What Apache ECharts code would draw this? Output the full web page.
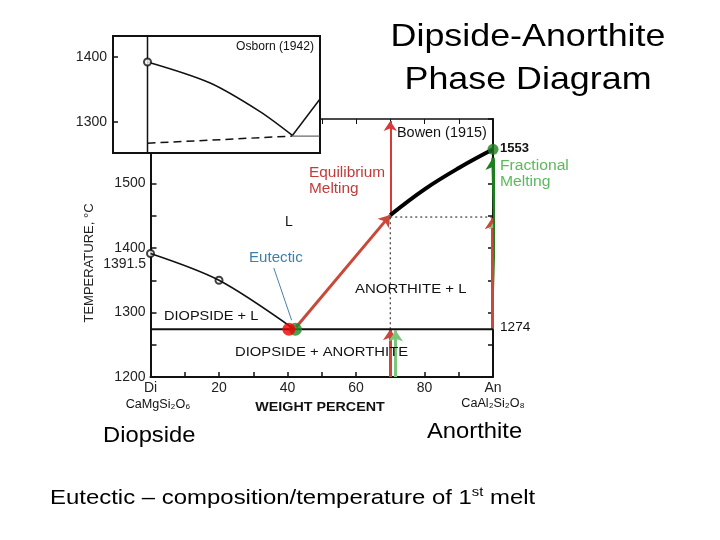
<!DOCTYPE html>
<html>
<head>
<meta charset="utf-8">
<script src="https://cdn.jsdelivr.net/npm/echarts@6/dist/echarts.min.js"></script>
<style>
  html, body { margin: 0; padding: 0; background: #fff; }
  #chart { width: 720px; height: 540px; }
</style>
</head>
<body>
<div id="chart"></div>
<script>
// composition (wt% An) vs temperature (°C)
const xTicks = [0, 20, 40, 60, 80, 100]
const yTicks = [1200, 1300, 1400, 1500]
const diLiquidus = [[0, 1391.5], [20, 1350], [42, 1274]]
const diPoints = [[0, 1391.5], [20, 1350]]
const anLiquidus = [[70, 1451], [80, 1491], [90, 1524], [100, 1553]]
const eutecticT = 1274
const eutecticDots = [[40.4, 1274], [42.3, 1274]]
const anMelt = [100, 1553]
// arrows: [from, to]
const redArrows = [
  [[42.5, 1277], [70, 1451]],
  [[70, 1200], [70, 1274]],
  [[99.7, 1274], [99.7, 1446]]
]
const redUp = [[70, 1451], [70, 1597]]
const lightGreenArrows = [
  [[71.6, 1200], [71.6, 1272]],
  [[100.9, 1274], [100.9, 1446]]
]
const darkGreenArrow = [[101.4, 1274], [100, 1540]]
const dotted = [
  [[70, 1274], [70, 1448]],
  [[70, 1448], [100, 1448]]
]
const eutecticPointer = [[36, 1369], [41.2, 1288]]
// Osborn (1942) inset
const osbornLiquidus = [[0, 1392], [18, 1360], [32.5, 1316], [42, 1279]]
const osbornRight = [[42, 1279], [50, 1335]]
const osbornDashed = [[0, 1267], [42, 1278]]
const osbornSolidus = [[42, 1278], [50, 1278]]
const insetTicks = [1300, 1400]

const chart = echarts.init(document.getElementById('chart'))
const FONT = '"Liberation Sans", Arial, sans-serif'
const RED = '#c8483a'
const LGREEN = '#7cc67c'
const DGREEN = '#1e7d1e'

function txt(x, y, text, opt, sx) {
  return {
    type: 'text', x: x, y: y, z: 50, scaleX: sx || 1,
    style: Object.assign({
      text: text, fill: '#111', font: '13px ' + FONT,
      textAlign: 'left', textVerticalAlign: 'middle'
    }, opt || {})
  }
}

function arrowSeries(list, color, width, size, z) {
  return {
    type: 'lines', coordinateSystem: 'cartesian2d', xAxisIndex: 0, yAxisIndex: 0,
    symbol: ['none', 'arrow'], symbolSize: size, z: z || 3,
    lineStyle: { color: color, width: width, opacity: 1 },
    data: list.map(c => ({ coords: c }))
  }
}

const option = {
  animation: false,
  backgroundColor: '#fff',
  textStyle: { fontFamily: FONT },
  grid: [
    { left: 150.5, top: 119, width: 342.5, height: 258 },
    { left: 113, top: 36, width: 207, height: 117, show: true, z: 10,
      backgroundColor: '#fff', borderColor: '#111', borderWidth: 2 }
  ],
  xAxis: [
    { gridIndex: 0, type: 'value', min: 0, max: 100, interval: 10,
      axisLine: { onZero: false, lineStyle: { color: '#111', width: 2 } },
      axisTick: { inside: true, length: 5, lineStyle: { color: '#111', width: 1.5 } },
      splitLine: { show: false },
      axisLabel: { color: '#222', fontSize: 14, margin: 4,
        formatter: v => v === 0 ? 'Di' : v === 100 ? 'An' : (xTicks.indexOf(v) >= 0 ? String(v) : '') } },
    { gridIndex: 0, type: 'value', position: 'top', min: 0, max: 100, interval: 10,
      axisLine: { onZero: false, lineStyle: { color: '#111', width: 1.5 } },
      axisTick: { inside: true, length: 5, lineStyle: { color: '#111' } },
      axisLabel: { show: false }, splitLine: { show: false } },
    { gridIndex: 1, type: 'value', min: -10, max: 50, show: false }
  ],
  yAxis: [
    { gridIndex: 0, type: 'value', min: 1200, max: 1600, interval: 50,
      axisLine: { show: true, onZero: false, lineStyle: { color: '#111', width: 2 } },
      axisTick: { show: true, inside: true, length: 6, lineStyle: { color: '#111', width: 1.5 } },
      splitLine: { show: false },
      axisLabel: { color: '#222', fontSize: 14, margin: 5,
        formatter: v => yTicks.indexOf(v) >= 0 ? String(v) : '' } },
    { gridIndex: 0, type: 'value', position: 'right', min: 1200, max: 1600, interval: 50,
      axisLine: { show: true, onZero: false, lineStyle: { color: '#111', width: 2 } },
      axisTick: { show: true, inside: true, length: 5, lineStyle: { color: '#111', width: 1.5 } },
      splitLine: { show: false }, axisLabel: { show: false } },
    { gridIndex: 1, type: 'value', min: 1252, max: 1432, z: 11,
      axisLine: { show: false, onZero: false },
      axisTick: { show: true, inside: true, length: 5, customValues: insetTicks,
        lineStyle: { color: '#111', width: 1.5 } },
      splitLine: { show: false },
      axisLabel: { color: '#222', fontSize: 14, margin: 6, customValues: insetTicks,
        formatter: v => String(v) } }
  ],
  series: [
    // inset (Osborn 1942)
    { type: 'line', xAxisIndex: 2, yAxisIndex: 2, z: 12, showSymbol: false,
      data: [[0, 1252], [0, 1432]], lineStyle: { color: '#111', width: 1.5 } },
    { type: 'line', xAxisIndex: 2, yAxisIndex: 2, z: 12, showSymbol: false, smooth: 0.3,
      data: osbornLiquidus, lineStyle: { color: '#111', width: 1.5 } },
    { type: 'line', xAxisIndex: 2, yAxisIndex: 2, z: 12, showSymbol: false,
      data: osbornRight, lineStyle: { color: '#111', width: 1.5 } },
    { type: 'line', xAxisIndex: 2, yAxisIndex: 2, z: 12, showSymbol: false,
      data: osbornDashed, lineStyle: { color: '#111', width: 1.5, type: [8, 5] } },
    { type: 'line', xAxisIndex: 2, yAxisIndex: 2, z: 12, showSymbol: false,
      data: osbornSolidus, lineStyle: { color: '#444', width: 1 } },
    { type: 'scatter', xAxisIndex: 2, yAxisIndex: 2, z: 13, symbol: 'emptyCircle', symbolSize: 7,
      data: [osbornLiquidus[0]], itemStyle: { color: '#111', borderWidth: 1.5 } },

    // main diagram (Bowen 1915)
    { type: 'line', xAxisIndex: 0, yAxisIndex: 0, showSymbol: false,
      data: [[0, eutecticT], [100, eutecticT]], lineStyle: { color: '#111', width: 2 } },
    { type: 'line', xAxisIndex: 0, yAxisIndex: 0, showSymbol: false, smooth: 0.3,
      data: diLiquidus, lineStyle: { color: '#111', width: 1.5 } },
    { type: 'scatter', xAxisIndex: 0, yAxisIndex: 0, symbol: 'emptyCircle', symbolSize: 7,
      data: diPoints, itemStyle: { color: '#111', borderWidth: 1.5 } },
    { type: 'line', xAxisIndex: 0, yAxisIndex: 0, showSymbol: false,
      data: dotted[0], lineStyle: { color: '#111', width: 1, type: [2, 3] } },
    { type: 'line', xAxisIndex: 0, yAxisIndex: 0, showSymbol: false,
      data: dotted[1], lineStyle: { color: '#111', width: 1, type: [2, 3] } },
    { type: 'line', xAxisIndex: 0, yAxisIndex: 0, showSymbol: false, smooth: 0.4, z: 4,
      data: anLiquidus, lineStyle: { color: '#000', width: 4 } },
    { type: 'line', xAxisIndex: 0, yAxisIndex: 0, showSymbol: false,
      data: eutecticPointer, lineStyle: { color: '#4a82a8', width: 1 } },
    arrowSeries(redArrows, RED, 3, 11),
    arrowSeries([redUp], '#d63a3a', 2, 10),
    arrowSeries(lightGreenArrows, LGREEN, 3, 11),
    arrowSeries([darkGreenArrow], DGREEN, 3.5, 12, 5),
    { type: 'scatter', xAxisIndex: 0, yAxisIndex: 0, symbolSize: 11, z: 6,
      data: [anMelt], itemStyle: { color: DGREEN } },
    { type: 'scatter', xAxisIndex: 0, yAxisIndex: 0, symbolSize: 13, z: 6,
      data: [eutecticDots[1]], itemStyle: { color: '#1f8a2a' } },
    { type: 'scatter', xAxisIndex: 0, yAxisIndex: 0, symbolSize: 13, z: 7,
      data: [eutecticDots[0]], itemStyle: { color: '#f00000' } }
  ],
  graphic: [
    txt(528, 37, 'Dipside-Anorthite', { font: '32px ' + FONT, textAlign: 'center', fill: '#000' }, 1.12),
    txt(528, 80, 'Phase Diagram', { font: '32px ' + FONT, textAlign: 'center', fill: '#000' }, 1.12),
    txt(314, 46, 'Osborn (1942)', { textAlign: 'right', font: '13px ' + FONT }, 0.93),
    txt(397, 133, 'Bowen (1915)', { font: '14px ' + FONT }, 1.03),
    txt(500, 148, '1553', { font: 'bold 13px ' + FONT }),
    txt(500, 166, 'Fractional', { font: '14px ' + FONT, fill: '#5cb85c' }, 1.12),
    txt(500, 182, 'Melting', { font: '14px ' + FONT, fill: '#5cb85c' }, 1.12),
    txt(309, 173, 'Equilibrium', { font: '14px ' + FONT, fill: '#c23b3b' }, 1.1),
    txt(309, 189, 'Melting', { font: '14px ' + FONT, fill: '#c23b3b' }, 1.1),
    txt(289, 222, 'L', { font: '14px ' + FONT, textAlign: 'center' }),
    txt(249, 258, 'Eutectic', { font: '14px ' + FONT, fill: '#3f7fa8' }, 1.08),
    txt(164, 316, 'DIOPSIDE + L', { font: '13px ' + FONT }, 1.12),
    txt(355, 289, 'ANORTHITE + L', { font: '13px ' + FONT }, 1.15),
    txt(235, 352, 'DIOPSIDE + ANORTHITE', { font: '13px ' + FONT }, 1.14),
    txt(500, 327, '1274', { font: '13px ' + FONT }, 1.05),
    txt(146, 264, '1391.5', { font: '14px ' + FONT, textAlign: 'right', fill: '#222' }),
    txt(158, 405, 'CaMgSi₂O₆', { font: '12px ' + FONT, textAlign: 'center' }, 1.05),
    txt(320, 407, 'WEIGHT PERCENT', { font: 'bold 13px ' + FONT, textAlign: 'center' }, 1.1),
    txt(493, 404, 'CaAl₂Si₂O₈', { font: '12px ' + FONT, textAlign: 'center' }, 1.05),
    { type: 'text', x: 89, y: 263, rotation: Math.PI / 2, z: 50,
      style: { text: 'TEMPERATURE, °C', font: '13px ' + FONT, fill: '#222',
        textAlign: 'center', textVerticalAlign: 'middle' } },
    txt(103, 436, 'Diopside', { font: '22px ' + FONT, fill: '#000' }, 1.08),
    txt(427, 432, 'Anorthite', { font: '22px ' + FONT, fill: '#000' }, 1.08),
    { type: 'text', x: 50, y: 498, z: 50, scaleX: 1.14,
      style: { text: '{a|Eutectic – composition/temperature of 1}{s|st}{a| melt}',
        textVerticalAlign: 'middle',
        rich: {
          a: { fontSize: 21, fontFamily: FONT, fill: '#000', color: '#000', lineHeight: 24 },
          s: { fontSize: 13, fontFamily: FONT, fill: '#000', color: '#000', lineHeight: 24, verticalAlign: 'top' }
        } } }
  ]
}
chart.setOption(option)
</script>
</body>
</html>
